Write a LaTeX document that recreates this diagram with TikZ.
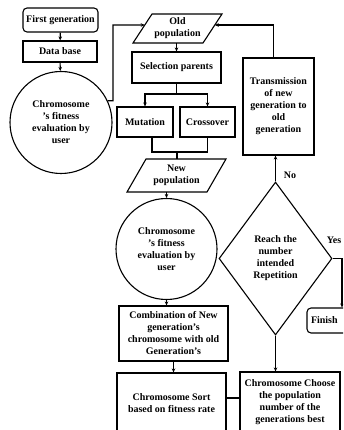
\documentclass[tikz,border=0pt]{standalone}
\usepackage{fontspec}
\setmainfont{Liberation Serif}
\usetikzlibrary{shapes.geometric,arrows.meta,calc}
\begin{document}
\begin{tikzpicture}[x=1pt,y=-1pt,
  every node/.style={font=\bfseries\fontsize{10}{12}\selectfont, align=center, inner sep=0pt},
  box/.style={draw, line width=1.1pt, rectangle},
  rbox/.style={box, rounded corners=4pt},
  circ/.style={draw, line width=1.1pt, circle},
  parashape/.style={draw, line width=1.1pt, line join=miter},
  dia/.style={draw, line width=1.1pt, diamond},
  conn/.style={line width=1.1pt},
  arr/.style={conn, -{Stealth[length=4pt,width=3.5pt]}}]
\useasboundingbox (0,0) rectangle (343,430);
\fill[white] (0,0) rectangle (343,430);
\clip (0,0) rectangle (343,430);

\node[rbox, minimum width=75pt, minimum height=24pt] (fg) at (60.5,20) {First generation};
\node[box, minimum width=74pt, minimum height=21pt] (db) at (60,51.5) {Data base};
\node[circ, minimum size=102pt] (c1) at (61,122.5) {Chromosome\\'s fitness\\evaluation by\\user};

% Old population (parallelogram)
\coordinate (oBL) at (133,43);
\coordinate (oTL) at (152,14);
\coordinate (oTR) at (222,14);
\coordinate (oBR) at (203,43);
\draw[parashape] (oBL) -- (oTL) -- (oTR) -- (oBR) -- cycle;
\node (old) at (177.5,28.5) {Old\\population};

\node[box, minimum width=89pt, minimum height=31pt] (sel) at (176.5,67.5) {Selection parents};
\node[box, minimum width=56pt, minimum height=30pt] (mut) at (145,122) {Mutation};
\node[box, minimum width=55pt, minimum height=30pt] (cro) at (207.5,122) {Crossover};

% New population (parallelogram)
\coordinate (nBL) at (127,192);
\coordinate (nTL) at (146,159);
\coordinate (nTR) at (226,159);
\coordinate (nBR) at (207,192);
\draw[parashape] (nBL) -- (nTL) -- (nTR) -- (nBR) -- cycle;
\node (newp) at (176.5,175.5) {New\\population};

\node[circ, minimum size=101pt] (c2) at (166.5,249) {Chromosome\\'s fitness\\evaluation by\\user};
\node[box, minimum width=109pt, minimum height=55pt] (comb) at (173.5,333.5) {Combination of New\\generation's\\chromosome with old\\Generation's};
\node[box, minimum width=109pt, minimum height=60pt] (sort) at (171.5,403) {Chromosome Sort\\based on fitness rate};
\node[box, minimum width=100pt, minimum height=61pt] (choose) at (290,402.5) {Chromosome Choose\\the population\\number of the\\generations best};

\node[box, minimum width=71pt, minimum height=97pt] (trans) at (278.5,106.5) {Transmission\\of new\\generation to\\old\\generation};
\node[dia, minimum width=113pt, minimum height=153pt] (dia) at (275.5,258.5) {Reach the\\number\\intended\\Repetition};
\node[rbox, minimum width=43pt, minimum height=25pt, text width=35pt, align=left] (fin) at (328.5,320.5) {Finish};
\node (no) at (290,175) {No};
\node (yes) at (334,240) {Yes};

\coordinate (oldL) at ($(oTL)!0.38!(oBL)$);
\coordinate (oldR) at ($(oTR)!0.38!(oBR)$);
\coordinate (oldB) at (176.5,43);
\coordinate (newT) at (177,159);
\coordinate (newB) at (166.5,192);
\coordinate (k1) at (113,25);
\coordinate (j1) at (176.5,94);
\coordinate (j2) at (177,152);
\coordinate (k3) at (342,258.5);

\draw[arr] (fg) -- (db);
\draw[arr] (db) -- (c1);
\draw[arr] (c1.25) -| (k1) -- (oldL);
\draw[arr] (oldB) -- (sel.north);
\draw[conn] (sel.south) -- (j1);
\draw[arr] (j1) -| (mut.north);
\draw[arr] (j1) -| (cro.north);
\draw[conn] ([xshift=7pt]mut.south) |- (j2) -- (newT);
\draw[conn] (cro.south) |- (j2);
\draw[arr] (newB) -- (c2.north);
\draw[arr] (c2.south) -- (c2.south |- comb.north);
\draw[arr] (comb.south) -- (comb.south |- sort.north);
\draw[conn] ([yshift=5pt]sort.east) -- ([yshift=5pt]sort.east -| choose.west);
\draw[arr] (dia.south) -- (dia.south |- choose.north);
\draw[arr] (dia.north) -- (dia.north |- trans.south);
\draw[arr] ([xshift=-5pt]trans.north) |- (oldR);
\draw[arr] (dia.east) -- (k3) -- (k3 |- fin.north);
\end{tikzpicture}
\end{document}
